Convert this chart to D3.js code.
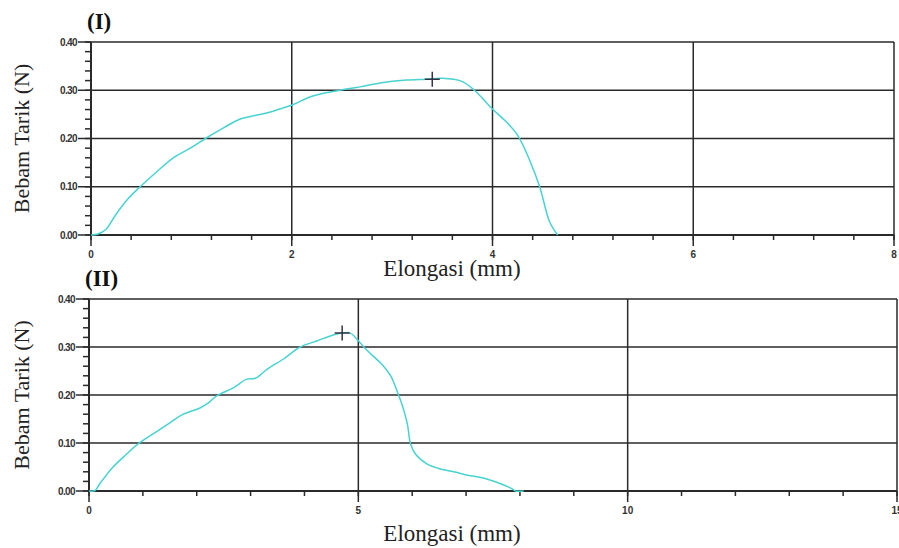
<!DOCTYPE html>
<html>
<head>
<meta charset="utf-8">
<script src="https://cdn.jsdelivr.net/npm/d3@7"></script>
<style>
  body { margin: 0; background: #fff; }
  svg { display: block; }
</style>
</head>
<body>
<div id="chart"></div>
<script>
// panel (I): elongation (mm) vs load (N)
const elongasi1 = [0, 0.07, 0.15, 0.24, 0.36, 0.49, 0.65, 0.82, 0.99, 1.14, 1.32, 1.48, 1.62, 1.75, 1.91, 2.01,
  2.21, 2.48, 2.68, 2.88, 3.14, 3.34, 3.50, 3.69, 3.82, 4.00, 4.14, 4.25, 4.37, 4.47, 4.57, 4.65];
const beban1 = [0, 0.002, 0.012, 0.040, 0.073, 0.100, 0.130, 0.160, 0.180, 0.200, 0.222, 0.240, 0.247, 0.253, 0.263, 0.270,
  0.288, 0.300, 0.307, 0.315, 0.321, 0.323, 0.325, 0.319, 0.300, 0.261, 0.234, 0.207, 0.155, 0.100, 0.027, 0];
const peak1 = [3.40, 0.323];

// panel (II)
const elongasi2 = [0, 0.11, 0.20, 0.43, 0.70, 0.91, 1.19, 1.50, 1.75, 2.06, 2.21, 2.37, 2.68, 2.93, 3.09, 3.31, 3.61, 3.92,
  4.24, 4.48, 4.70, 4.85, 5.00, 5.17, 5.41, 5.60, 5.72, 5.82, 5.91, 5.97, 6.06, 6.28, 6.52, 6.77, 7.03, 7.32, 7.64, 7.83, 7.92, 8.07];
const beban2 = [0, 0.001, 0.015, 0.048, 0.077, 0.098, 0.119, 0.142, 0.160, 0.173, 0.183, 0.198, 0.215, 0.233, 0.235, 0.254, 0.275, 0.300,
  0.313, 0.323, 0.329, 0.329, 0.313, 0.292, 0.267, 0.240, 0.208, 0.177, 0.140, 0.098, 0.077, 0.056, 0.046, 0.040, 0.033, 0.027, 0.015, 0.006, 0, 0];
const peak2 = [4.70, 0.329];

const yTicks = [0, 0.1, 0.2, 0.3, 0.4];
const xTicks1 = [0, 2, 4, 6, 8];
const xTicks2 = [0, 5, 10, 15];

const W = 899, H = 548;
const svg = d3.select("#chart").append("svg").attr("width", W).attr("height", H);

const cyan = "#48d2d2", ink = "#2a2a2a";
const serif = "'Liberation Serif', 'Times New Roman', serif";

function panel(opt) {
  const x = d3.scaleLinear().domain(opt.xDomain).range([opt.left, opt.right]);
  const y = d3.scaleLinear().domain([0, 0.4]).range([opt.bottom, opt.top]);
  const g = svg.append("g");

  // horizontal grid
  g.selectAll(".hg").data(yTicks.slice(1)).join("line")
    .attr("x1", opt.left).attr("x2", opt.right)
    .attr("y1", d => y(d)).attr("y2", d => y(d))
    .attr("stroke", ink).attr("stroke-width", 1.5);
  // vertical grid
  g.selectAll(".vg").data(opt.xTicks.slice(1)).join("line")
    .attr("x1", d => x(d)).attr("x2", d => x(d))
    .attr("y1", opt.top).attr("y2", opt.bottom)
    .attr("stroke", ink).attr("stroke-width", 1.5);

  // y ticks
  const yMinor = d3.range(0, 0.401, 0.02);
  g.selectAll(".ym").data(yMinor).join("line")
    .attr("x1", opt.left - 6).attr("x2", opt.left)
    .attr("y1", d => y(d)).attr("y2", d => y(d))
    .attr("stroke", ink).attr("stroke-width", 1.5);
  g.selectAll(".yM").data(yTicks).join("line")
    .attr("x1", opt.left - 13).attr("x2", opt.left)
    .attr("y1", d => y(d)).attr("y2", d => y(d))
    .attr("stroke", ink).attr("stroke-width", 1.5);
  g.selectAll(".yl").data(yTicks).join("text")
    .attr("x", opt.left - 14).attr("y", d => y(d) + 3.5)
    .attr("text-anchor", "end")
    .style("font", "bold 10px 'Liberation Sans', Arial, sans-serif")
    .style("letter-spacing", "-0.6px")
    .attr("fill", "#333")
    .text(d => d3.format(".2f")(d));

  // x ticks
  const xMinor = d3.range(opt.xDomain[0], opt.xDomain[1] + 1e-6, opt.xMinor);
  g.selectAll(".xm").data(xMinor).join("line")
    .attr("x1", d => x(d)).attr("x2", d => x(d))
    .attr("y1", opt.bottom).attr("y2", opt.bottom + 5)
    .attr("stroke", ink).attr("stroke-width", 1.5);
  g.selectAll(".xM").data(opt.xTicks).join("line")
    .attr("x1", d => x(d)).attr("x2", d => x(d))
    .attr("y1", opt.bottom).attr("y2", opt.bottom + 11)
    .attr("stroke", ink).attr("stroke-width", 1.5);
  g.selectAll(".xl").data(opt.xTicks).join("text")
    .attr("x", d => x(d)).attr("y", opt.bottom + 23)
    .attr("text-anchor", "middle")
    .style("font", "bold 10px 'Liberation Sans', Arial, sans-serif")
    .attr("fill", "#333")
    .text(d => d);

  // axes
  g.append("line").attr("x1", opt.left).attr("x2", opt.right)
    .attr("y1", opt.bottom).attr("y2", opt.bottom)
    .attr("stroke", ink).attr("stroke-width", 2);
  g.append("line").attr("x1", opt.left).attr("x2", opt.left)
    .attr("y1", opt.top).attr("y2", opt.bottom)
    .attr("stroke", ink).attr("stroke-width", 2);

  // curve
  const pts = opt.xs.map((v, i) => [v, opt.ys[i]]);
  g.append("path").datum(pts)
    .attr("d", d3.line().x(d => x(d[0])).y(d => y(d[1])).curve(d3.curveCatmullRom))
    .attr("fill", "none").attr("stroke", cyan).attr("stroke-width", 1.5);

  // peak marker
  const px = x(opt.peak[0]), py = y(opt.peak[1]);
  g.append("path").attr("d", `M${px - 7.5},${py}H${px + 7.5}M${px},${py - 7.5}V${py + 7.5}`)
    .attr("stroke", "#333344").attr("stroke-width", 1.5);

  // labels
  g.append("text").attr("x", opt.left - 4).attr("y", opt.top - 13)
    .style("font", `bold 23px ${serif}`)
    .attr("fill", "#111").text(opt.title);
  g.append("text")
    .attr("transform", `translate(29,${(opt.top + opt.bottom) / 2}) rotate(-90)`)
    .attr("text-anchor", "middle")
    .style("font", `22px ${serif}`)
    .attr("fill", "#222").text("Bebam Tarik (N)");
  g.append("text").attr("x", 452).attr("y", opt.labelY)
    .attr("text-anchor", "middle")
    .style("font", `23px ${serif}`)
    .attr("fill", "#222").text("Elongasi (mm)");
}

panel({ title: "(I)", xs: elongasi1, ys: beban1, peak: peak1, xDomain: [0, 8], xTicks: xTicks1, xMinor: 0.4,
  left: 91, right: 894, top: 42, bottom: 235, labelY: 276 });
panel({ title: "(II)", xs: elongasi2, ys: beban2, peak: peak2, xDomain: [0, 15], xTicks: xTicks2, xMinor: 1,
  left: 89, right: 897, top: 299, bottom: 491, labelY: 541 });
</script>
</body>
</html>
